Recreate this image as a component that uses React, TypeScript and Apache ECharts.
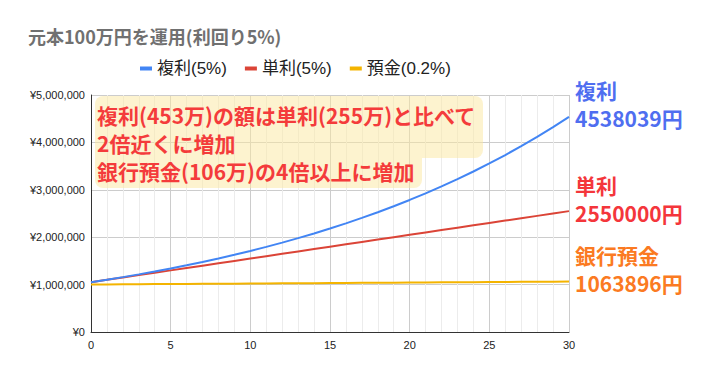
import React, { useEffect, useRef } from "react";
import * as echarts from "echarts";

const years: number[] = Array.from({ length: 31 }, (_, i) => i);

const compound: number[] = [
  1050000, 1102500, 1157625, 1215506, 1276282, 1340096, 1407100, 1477455,
  1551328, 1628895, 1710339, 1795856, 1885649, 1979932, 2078928, 2182875,
  2292018, 2406619, 2526950, 2653298, 2785963, 2925261, 3071524, 3225100,
  3386355, 3555673, 3733456, 3920129, 4116136, 4321942, 4538039,
];

const simple: number[] = [
  1050000, 1100000, 1150000, 1200000, 1250000, 1300000, 1350000, 1400000,
  1450000, 1500000, 1550000, 1600000, 1650000, 1700000, 1750000, 1800000,
  1850000, 1900000, 1950000, 2000000, 2050000, 2100000, 2150000, 2200000,
  2250000, 2300000, 2350000, 2400000, 2450000, 2500000, 2550000,
];

const deposit: number[] = [
  1002000, 1004004, 1006012, 1008024, 1010040, 1012060, 1014084, 1016112,
  1018145, 1020181, 1022221, 1024266, 1026314, 1028367, 1030424, 1032485,
  1034550, 1036619, 1038692, 1040769, 1042851, 1044936, 1047026, 1049120,
  1051219, 1053321, 1055428, 1057539, 1059654, 1061773, 1063896,
];

const seriesNames = ["複利(5%)", "単利(5%)", "預金(0.2%)"];
const titleText = "元本100万円を運用(利回り5%)";
const noteLines = [
  "複利(453万)の額は単利(255万)と比べて",
  "2倍近くに増加",
  "銀行預金(106万)の4倍以上に増加",
];
const endLabels = [
  ["複利", "4538039円"],
  ["単利", "2550000円"],
  ["銀行預金", "1063896円"],
];

const SANS = "Arial, 'Liberation Sans', 'Noto Sans CJK JP', sans-serif";
const CJK = "'Noto Sans CJK JP', sans-serif";

export default function App() {
  const ref = useRef<HTMLDivElement>(null);
  useEffect(() => {
    document.body.style.margin = "0";
    if (!ref.current) return;
    const chart = echarts.init(ref.current, undefined, { renderer: "svg" });
    const toPairs = (arr: number[]) => arr.map((v, i) => [years[i], v]);
    const endColors = ["#4f6ef0", "#f4363b", "#fb7a22"];
    const endTops = [76, 171, 241];
    chart.setOption({
      animation: false,
      backgroundColor: "#ffffff",
      title: {
        text: titleText,
        left: 23,
        top: 22,
        textStyle: { fontSize: 18, fontWeight: 700, color: "#707070", fontFamily: CJK },
      },
      legend: {
        left: 135,
        top: 55,
        itemWidth: 12,
        itemHeight: 4,
        itemGap: 18,
        icon: "rect",
        textStyle: { fontSize: 17, color: "#222222", fontFamily: SANS },
        data: seriesNames,
      },
      grid: { left: 91, right: 145, top: 95, bottom: 41 },
      xAxis: {
        type: "value",
        min: 0,
        max: 30,
        interval: 5,
        axisLine: { show: true, lineStyle: { color: "#333333", width: 1 } },
        axisTick: { show: false },
        axisLabel: { fontSize: 11, color: "#222222", fontFamily: SANS, margin: 7 },
        splitLine: { show: true, lineStyle: { color: "#cccccc" } },
        minorTick: { show: false, splitNumber: 5 },
        minorSplitLine: { show: true, lineStyle: { color: "#ececec" } },
      },
      yAxis: {
        type: "value",
        min: 0,
        max: 5000000,
        interval: 1000000,
        axisLine: { show: true, lineStyle: { color: "#333333", width: 1 } },
        axisTick: { show: false },
        axisLabel: {
          fontSize: 11,
          color: "#222222",
          fontFamily: SANS,
          margin: 6,
          formatter: (v: number) => "¥" + v.toLocaleString("en-US"),
        },
        splitLine: { show: true, lineStyle: { color: "#cccccc" } },
      },
      series: [
        {
          name: seriesNames[0],
          type: "line",
          data: toPairs(compound),
          showSymbol: false,
          symbol: "none",
          lineStyle: { width: 2, color: "#4285f4" },
          itemStyle: { color: "#4285f4" },
          z: 4,
        },
        {
          name: seriesNames[1],
          type: "line",
          data: toPairs(simple),
          showSymbol: false,
          symbol: "none",
          lineStyle: { width: 2, color: "#db4437" },
          itemStyle: { color: "#db4437" },
          z: 3,
        },
        {
          name: seriesNames[2],
          type: "line",
          data: toPairs(deposit),
          showSymbol: false,
          symbol: "none",
          lineStyle: { width: 2, color: "#f4b400" },
          itemStyle: { color: "#f4b400" },
          z: 2,
        },
      ],
      graphic: [
        {
          type: "rect",
          z: 50,
          shape: { x: 95, y: 96, width: 388, height: 62, r: [8, 8, 8, 0] },
          style: { fill: "rgba(251, 231, 160, 0.5)" },
        },
        {
          type: "rect",
          z: 50,
          shape: { x: 95, y: 158, width: 327, height: 30, r: [0, 0, 8, 8] },
          style: { fill: "rgba(251, 231, 160, 0.5)" },
        },
        {
          type: "text",
          z: 60,
          x: 97,
          y: 101,
          style: {
            text: noteLines.join("\n"),
            fill: "#f43b3b",
            fontSize: 21,
            lineHeight: 28,
            fontWeight: "bold",
            fontFamily: CJK,
            verticalAlign: "top",
          },
        },
        ...endLabels.map((pair, k) => ({
          type: "text",
          z: 60,
          x: 575,
          y: endTops[k],
          style: {
            text: pair.join("\n"),
            fill: endColors[k],
            fontSize: 21,
            lineHeight: 28,
            fontWeight: "bold",
            fontFamily: CJK,
            verticalAlign: "top",
          },
        })),
      ],
    });
    return () => chart.dispose();
  }, []);
  return <div ref={ref} style={{ width: 714, height: 373 }} />;
}
